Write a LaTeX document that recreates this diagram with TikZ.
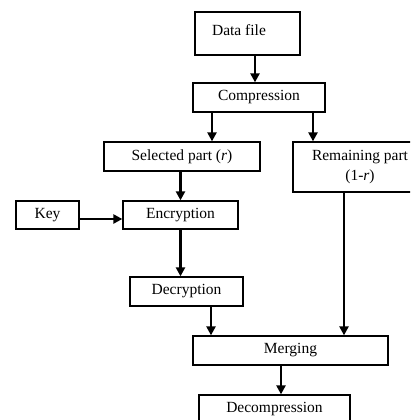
\documentclass[tikz,border=0pt]{standalone}
\usepackage{fontspec}
\setmainfont{Liberation Serif}
\usetikzlibrary{arrows.meta}
\newcommand\fsz{\fontsize{15.5}{20}\selectfont}
\begin{document}
\begin{tikzpicture}[x=1pt,y=-1pt,
  box/.style={draw, line width=1.3pt, inner sep=0pt, font=\fsz, align=center},
  txt/.style={inner sep=0pt, font=\fsz},
  arr/.style={line width=2.4pt, -{Triangle[length=9pt,width=9pt]}}]
\useasboundingbox (0,0) rectangle (410,420);
\clip (0,0) rectangle (410,420);
\node[box, minimum width=105pt, minimum height=43pt] (data) at (247.5,33.5) {};
\node[txt] (datatxt) at (239,30) {Data file};
\node[box, minimum width=132pt, minimum height=29pt] (comp) at (259,97.5) {Compression};
\node[box, minimum width=156pt, minimum height=29pt] (sel) at (182,156.5) {Selected part (\textit{r})};
\node[box, minimum width=134pt, minimum height=50pt] (rem) at (360,167) {Remaining part\\(1-\textit{r})};
\node[box, minimum width=115pt, minimum height=28pt] (enc) at (180.5,215) {Encryption};
\node[box, minimum width=63pt, minimum height=28pt] (key) at (47.5,215) {Key};
\node[box, minimum width=113pt, minimum height=29pt] (dec) at (186.5,291.5) {Decryption};
\node[box, minimum width=195pt, minimum height=29pt] (merge) at (290.5,350.5) {Merging};
\node[box, minimum width=151pt, minimum height=29pt] (decomp) at (274.5,409.5) {Decompression};
\draw[arr] ([xshift=7.5pt]data.south) -- ([xshift=7.5pt]data.south |- comp.north);
\draw[arr] ([xshift=-47pt]comp.south) -- ([xshift=-47pt]comp.south |- sel.north);
\draw[arr] ([xshift=54pt]comp.south) -- ([xshift=54pt]comp.south |- rem.north);
\draw[arr] (enc.north |- sel.south) -- (enc.north);
\draw[arr] ([yshift=-4pt]key.east) -- ([yshift=-4pt]enc.west);
\draw[arr] (enc.south) -- (enc.south |- dec.north);
\draw[arr] ([xshift=24.5pt]dec.south) -- ([xshift=24.5pt]dec.south |- merge.north);
\draw[arr] ([xshift=-16pt]rem.south) -- ([xshift=-16pt]rem.south |- merge.north);
\draw[arr] ([xshift=-9.5pt]merge.south) -- ([xshift=-9.5pt]merge.south |- decomp.north);
\end{tikzpicture}
\end{document}
